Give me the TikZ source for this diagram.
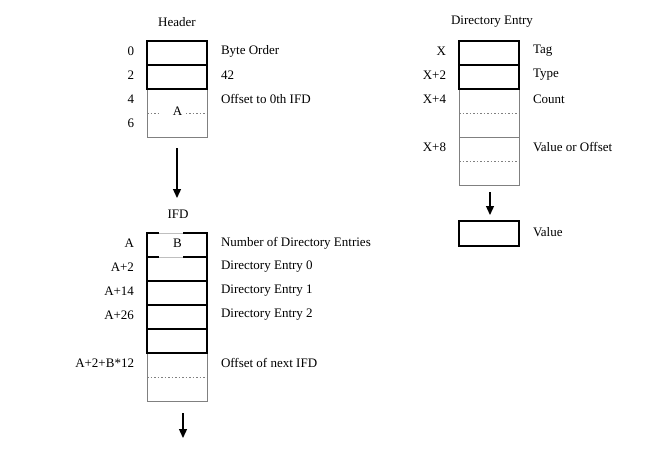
\documentclass[tikz,border=0pt]{standalone}
\usepackage{fontspec}
\setmainfont{Liberation Serif}
\usetikzlibrary{arrows.meta}
\begin{document}
\begin{tikzpicture}[x=1pt,y=-1pt,
  every node/.style={font=\fontsize{13}{15}\selectfont,inner sep=0pt,outer sep=0pt},
  blk/.style={draw=black,line width=1.3pt,minimum width=60pt,minimum height=24pt},
  gry/.style={draw=gray,line width=0.9pt,minimum width=60pt,minimum height=48pt},
  dots/.style={draw=gray,line width=0.8pt,dash pattern=on 1.5pt off 2pt},
  lbl/.style={anchor=west},
  off/.style={anchor=east},
  ttl/.style={anchor=center},
  arr/.style={line width=1.3pt,-{Triangle[length=9pt,width=8pt]}}]
\useasboundingbox (0,0) rectangle (653,469);

% ---------- Header ----------
\node[ttl] (htitle) at (177,22) {Header};
\node[gry] (h2) at (177,113) {};
\draw[dots] (h2.west) -- (h2.east);
\node[fill=white,minimum width=27pt,minimum height=12pt] (hA) at (172,112) {};
\node at (177.5,111.5) {A};
\node[blk] (h0) at (177,53) {};
\node[blk] (h1) at (177,77) {};
\node[off] (o0) at (134,51) {0};
\node[off] (o2) at (134,75) {2};
\node[off] (o4) at (134,99) {4};
\node[off] (o6) at (134,123) {6};
\node[lbl] (l0) at (221,51) {Byte Order};
\node[lbl] (l1) at (221,75) {42};
\node[lbl] (l2) at (221,99) {Offset to 0th IFD};
\coordinate (hs) at (177,148);
\coordinate (he) at (177,198);
\draw[arr] (hs) -- (he);

% ---------- IFD ----------
\node[ttl] (ititle) at (178,214) {IFD};
\node[gry] (i5) at (177,377) {};
\draw[dots] (i5.west) -- (i5.east);
\node[blk] (i0) at (177,245) {};
\node[blk] (i1) at (177,269) {};
\node[blk] (i2) at (177,293) {};
\node[blk] (i3) at (177,317) {};
\node[blk] (i4) at (177,341) {};
\fill[white] (159,230) rectangle (183,236);
\fill[white] (159,254) rectangle (183,260);
\draw[lightgray,line width=0.8pt] (159,233) -- (183,233);
\draw[lightgray,line width=0.8pt] (159,257) -- (183,257);
\node (B) at (177.5,243.5) {B};
\node[off] (oa0) at (134,243) {A};
\node[off] (oa1) at (134,267) {A+2};
\node[off] (oa2) at (134,291) {A+14};
\node[off] (oa3) at (134,315) {A+26};
\node[off] (oa5) at (134,363) {A+2+B*12};
\node[lbl] (la0) at (221,243) {Number of Directory Entries};
\node[lbl] (la1) at (221,267) {Directory Entry 0};
\node[lbl] (la2) at (221,291) {Directory Entry 1};
\node[lbl] (la3) at (221,315) {Directory Entry 2};
\node[lbl] (la5) at (221,363) {Offset of next IFD};
\coordinate (is) at (183,413);
\coordinate (ie) at (183,438);
\draw[arr] (is) -- (ie);

% ---------- Directory Entry ----------
\node[ttl] (dtitle) at (492,22) {Directory Entry};
\node[gry] (d2) at (489,113) {};
\draw[dots] (d2.west) -- (d2.east);
\node[gry] (d3) at (489,161) {};
\draw[dots] (d3.west) -- (d3.east);
\node[blk] (d0) at (489,53) {};
\node[blk] (d1) at (489,77) {};
\node[off] (ox0) at (446,51) {X};
\node[off] (ox1) at (446,75) {X+2};
\node[off] (ox2) at (446,99) {X+4};
\node[off] (ox3) at (446,147) {X+8};
\node[lbl] (ld0) at (533,51) {Tag};
\node[lbl] (ld1) at (533,75) {Type};
\node[lbl] (ld2) at (533,99) {Count};
\node[lbl] (ld3) at (533,147) {Value or Offset};
\node[blk,minimum height=25pt] (v) at (489,233.5) {};
\node[lbl] (lv) at (533,232) {Value};
\coordinate (ds) at (490,192);
\coordinate (de) at (490,215);
\draw[arr] (ds) -- (de);
\end{tikzpicture}
\end{document}
